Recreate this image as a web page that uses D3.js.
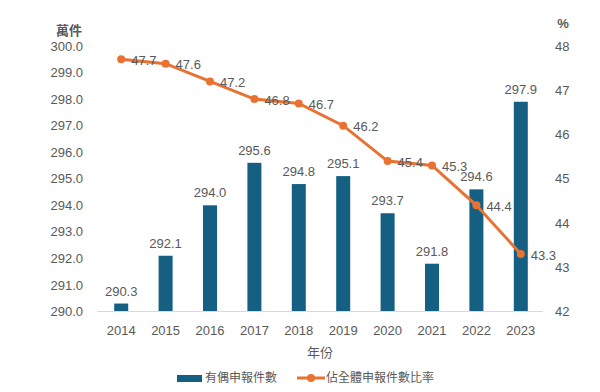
<!DOCTYPE html>
<meta charset="utf-8">
<style>
    body { margin: 0; background: #fff; }
    text { font-family: "Liberation Sans", Arial, "Noto Sans CJK TC", sans-serif; fill: #595959; }
    .cjk { font-family: "Noto Sans CJK TC", sans-serif; }
</style>
<body>
<script src="https://d3js.org/d3.v7.min.js"></script>
<script>

    // data
    var years = ["2014", "2015", "2016", "2017", "2018", "2019", "2020", "2021", "2022", "2023"];
    var filings = [290.3, 292.1, 294.0, 295.6, 294.8, 295.1, 293.7, 291.8, 294.6, 297.9];
    var ratio = [47.7, 47.6, 47.2, 46.8, 46.7, 46.2, 45.4, 45.3, 44.4, 43.3];
    var leftTicks = [290, 291, 292, 293, 294, 295, 296, 297, 298, 299, 300];
    var rightTicks = [42, 43, 44, 45, 46, 47, 48];

    var barColor = "#156082", lineColor = "#E97132";

    var svg = d3.select("body").append("svg")
        .attr("width", 600)
        .attr("height", 392);

    // scales
    var x = d3.scaleBand().domain(years).range([99, 543]);
    var yL = d3.scaleLinear().domain([290, 300]).range([311.5, 46]);
    var yR = d3.scaleLinear().domain([42, 48]).range([311.5, 46]);
    var barW = 14;

    // left axis labels
    svg.append("g")
        .selectAll("text")
        .data(leftTicks)
        .enter().append("text")
        .attr("x", 83)
        .attr("y", function (d) { return yL(d); })
        .attr("dy", "0.35em")
        .attr("text-anchor", "end")
        .attr("font-size", "13px")
        .text(function (d) { return d.toFixed(1); });

    // right axis labels
    svg.append("g")
        .selectAll("text")
        .data(rightTicks)
        .enter().append("text")
        .attr("x", 555)
        .attr("y", function (d) { return yR(d); })
        .attr("dy", "0.35em")
        .attr("text-anchor", "start")
        .attr("font-size", "13px")
        .text(function (d) { return d; });

    // axis titles
    svg.append("text").attr("class", "cjk")
        .attr("x", 69).attr("y", 30).attr("dy", "0.35em")
        .attr("text-anchor", "middle").attr("font-size", "13px")
        .attr("font-weight", "bold")
        .text("萬件");
    svg.append("text")
        .attr("x", 563).attr("y", 23).attr("dy", "0.35em")
        .attr("text-anchor", "middle").attr("font-size", "13px")
        .attr("font-weight", "bold")
        .text("%");

    // bars
    svg.append("g")
        .selectAll("rect")
        .data(filings)
        .enter().append("rect")
        .attr("x", function (d, i) { return x(years[i]) + x.bandwidth() / 2 - barW / 2; })
        .attr("y", function (d) { return yL(d); })
        .attr("width", barW)
        .attr("height", function (d) { return yL(290) - yL(d); })
        .attr("fill", barColor);

    // x axis line
    svg.append("line")
        .attr("x1", 97).attr("x2", 543)
        .attr("y1", yL(290)).attr("y2", yL(290))
        .attr("stroke", "#d9d9d9").attr("stroke-width", 1);

    // x tick labels
    svg.append("g")
        .selectAll("text")
        .data(years)
        .enter().append("text")
        .attr("x", function (d) { return x(d) + x.bandwidth() / 2; })
        .attr("y", 330)
        .attr("dy", "0.35em")
        .attr("text-anchor", "middle")
        .attr("font-size", "13px")
        .text(function (d) { return d; });

    svg.append("text").attr("class", "cjk")
        .attr("x", 320).attr("y", 352).attr("dy", "0.35em")
        .attr("text-anchor", "middle").attr("font-size", "13px")
        .text("年份");

    // bar labels
    svg.append("g")
        .selectAll("text")
        .data(filings)
        .enter().append("text")
        .attr("x", function (d, i) { return x(years[i]) + x.bandwidth() / 2; })
        .attr("y", function (d) { return yL(d) - 8; })
        .attr("text-anchor", "middle")
        .attr("font-size", "13px")
        .attr("fill", "#404040")
        .text(function (d) { return d.toFixed(1); });

    // line
    var line = d3.line()
        .x(function (d, i) { return x(years[i]) + x.bandwidth() / 2; })
        .y(function (d) { return yR(d); });

    svg.append("path")
        .datum(ratio)
        .attr("d", line)
        .attr("fill", "none")
        .attr("stroke", lineColor)
        .attr("stroke-width", 3);

    svg.append("g")
        .selectAll("circle")
        .data(ratio)
        .enter().append("circle")
        .attr("cx", function (d, i) { return x(years[i]) + x.bandwidth() / 2; })
        .attr("cy", function (d) { return yR(d); })
        .attr("r", 4)
        .attr("fill", lineColor);

    // line labels
    svg.append("g")
        .selectAll("text")
        .data(ratio)
        .enter().append("text")
        .attr("x", function (d, i) { return x(years[i]) + x.bandwidth() / 2 + 10; })
        .attr("y", function (d) { return yR(d) + 1; })
        .attr("dy", "0.35em")
        .attr("text-anchor", "start")
        .attr("font-size", "13px")
        .attr("fill", "#404040")
        .text(function (d) { return d.toFixed(1); });

    // legend
    var lg = svg.append("g");
    lg.append("rect")
        .attr("x", 177).attr("y", 375).attr("width", 25).attr("height", 7)
        .attr("fill", barColor);
    lg.append("text").attr("class", "cjk")
        .attr("x", 205).attr("y", 378).attr("dy", "0.35em")
        .attr("font-size", "12px")
        .text("有偶申報件數");
    lg.append("line")
        .attr("x1", 297).attr("x2", 325).attr("y1", 378).attr("y2", 378)
        .attr("stroke", lineColor).attr("stroke-width", 3);
    lg.append("circle")
        .attr("cx", 311).attr("cy", 378).attr("r", 4)
        .attr("fill", lineColor);
    lg.append("text").attr("class", "cjk")
        .attr("x", 326).attr("y", 378).attr("dy", "0.35em")
        .attr("font-size", "12px")
        .text("佔全體申報件數比率");

</script>
</body>
